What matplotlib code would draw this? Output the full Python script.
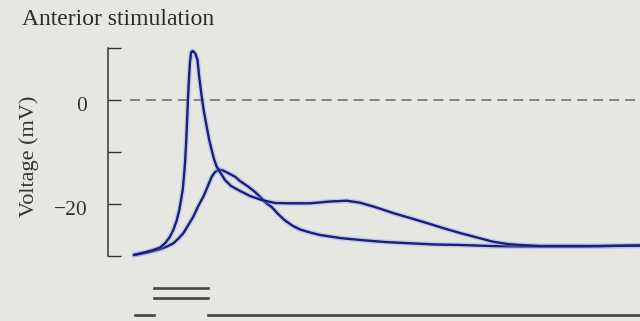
import numpy as np
import matplotlib
matplotlib.use("Agg")
import matplotlib.pyplot as plt
from matplotlib.transforms import ScaledTranslation

# time in ms, voltage in mV
spike_t = [0.0, 0.93, 1.93, 2.6, 3.1, 3.55, 3.93, 4.25, 4.53, 4.7,
           4.87, 5.0, 5.1, 5.2, 5.27, 5.33, 5.4, 5.5, 5.6, 5.7,
           5.77, 5.87, 6.0, 6.15, 6.35, 6.5, 6.77, 7.0, 7.27, 7.5,
           7.77, 8.0, 8.27, 8.6, 9.1, 9.7, 10.43, 11.6, 12.77, 14.1,
           15.6, 17.6, 19.6, 21.27, 22.6, 24.1, 25.9, 27.6, 29.27, 30.9,
           32.6, 34.3, 35.9, 37.3, 38.6, 40.6, 42.6, 46.6, 50.6]
spike_v = [-29.8, -29.37, -28.85, -28.37, -27.56, -26.44, -25.0, -23.27, -21.15, -19.23,
           -17.31, -14.62, -12.12, -8.65, -5.77, -2.88, 0.38, 4.23, 7.31, 9.04,
           9.33, 9.42, 9.23, 8.85, 7.69, 4.81, 0.63, -2.31, -5.13, -7.5,
           -9.62, -11.35, -12.83, -13.85, -15.38, -16.54, -17.31, -18.46, -19.23, -19.81,
           -19.87, -19.87, -19.52, -19.37, -19.75, -20.58, -21.73, -22.69, -23.65, -24.62,
           -25.58, -26.44, -27.25, -27.69, -27.88, -28.08, -28.08, -28.08, -27.98]

slow_t = [0.0, 1.27, 2.6, 3.3, 3.93, 4.4, 4.93, 5.4, 5.93, 6.4,
          6.93, 7.35, 7.77, 8.1, 8.43, 8.6, 8.9, 9.4, 10.1, 10.6,
          11.43, 12.1, 12.77, 13.2, 13.77, 14.4, 15.1, 15.9, 16.6, 17.6,
          18.6, 20.6, 22.6, 25.1, 27.6, 30.1, 32.6, 35.6, 38.6, 44.6, 50.6]
slow_v = [-29.8, -29.37, -28.71, -28.17, -27.56, -26.73, -25.63, -24.13, -22.44, -20.48,
          -18.6, -16.73, -14.75, -13.85, -13.46, -13.42, -13.56, -14.04, -14.75, -15.58,
          -16.67, -17.69, -18.9, -19.81, -20.58, -21.92, -23.17, -24.23, -24.9, -25.48,
          -25.96, -26.54, -26.92, -27.31, -27.56, -27.79, -27.88, -28.08, -28.17, -28.17, -27.98]

# stimulus monitor traces below the recording
stim_upper = -36.2
stim_lower = -38.1
stim_base = -41.4
stim_on, stim_off = 2.0, 7.4
trace_start, trace_end = 0.1, 50.6

ytick_vals = [-30, -20, -10, 0, 10]
ytick_labels = ['', '\u221220', '', '0', '']

bg = '#e7e7e2'
navy = '#1b1f7c'

plt.rcParams['font.family'] = ['Liberation Serif', 'DejaVu Serif']
plt.rcParams['lines.scale_dashes'] = False

fig = plt.figure(figsize=(6.4, 3.21), dpi=100, facecolor=bg)
ax = fig.add_axes([108 / 640, 0, 532 / 640, 1])
ax.set_facecolor(bg)

# zero reference
ax.plot([-0.4, 50.6], [0, 0], color='#7a7a78', lw=1.3, dashes=(7.2, 4.3))

for t, v in [(slow_t, slow_v), (spike_t, spike_v)]:
    ax.plot(t, v, color='#8f9ce6', lw=3.8, alpha=0.35, solid_joinstyle='round', solid_capstyle='round')
    ax.plot(t, v, color=navy, lw=1.7, solid_joinstyle='round', solid_capstyle='round')

# stimulus bars
ax.plot([stim_on, stim_off], [stim_upper, stim_upper], color='#444444', lw=1.9)
ax.plot([stim_on, stim_off], [stim_lower, stim_lower], color='#444444', lw=1.9)
ax.plot([trace_start, stim_on], [stim_base, stim_base], color='#444444', lw=1.9)
ax.plot([stim_off, trace_end], [stim_base, stim_base], color='#444444', lw=1.9)

ax.set_xlim(-2.6, 50.6)
ax.set_ylim(-42.5, 19.23)

for side in ['top', 'right', 'bottom']:
    ax.spines[side].set_visible(False)
ax.spines['left'].set_bounds(-30, 10)
ax.spines['left'].set_color('#333333')
ax.spines['left'].set_linewidth(1.1)
ax.set_xticks([])
ax.set_yticks(ytick_vals)
ax.set_yticklabels(ytick_labels, fontsize=15.5, color='#333333')
ax.tick_params(axis='y', direction='in', length=9.5, width=1.0, color='#333333', pad=15)
for lbl in ax.get_yticklabels():
    lbl.set_transform(lbl.get_transform() + ScaledTranslation(0, -0.045, fig.dpi_scale_trans))

ax.set_ylabel('Voltage (mV)', fontsize=16, color='#333333')
ax.yaxis.set_label_coords(-0.130, 0.514)

fig.text(22 / 640, 1 - 25 / 321, 'Anterior stimulation', fontsize=17,
         color='#2a2a2a', va='baseline', ha='left')

fig.savefig('out.png', dpi=100, facecolor=bg)
